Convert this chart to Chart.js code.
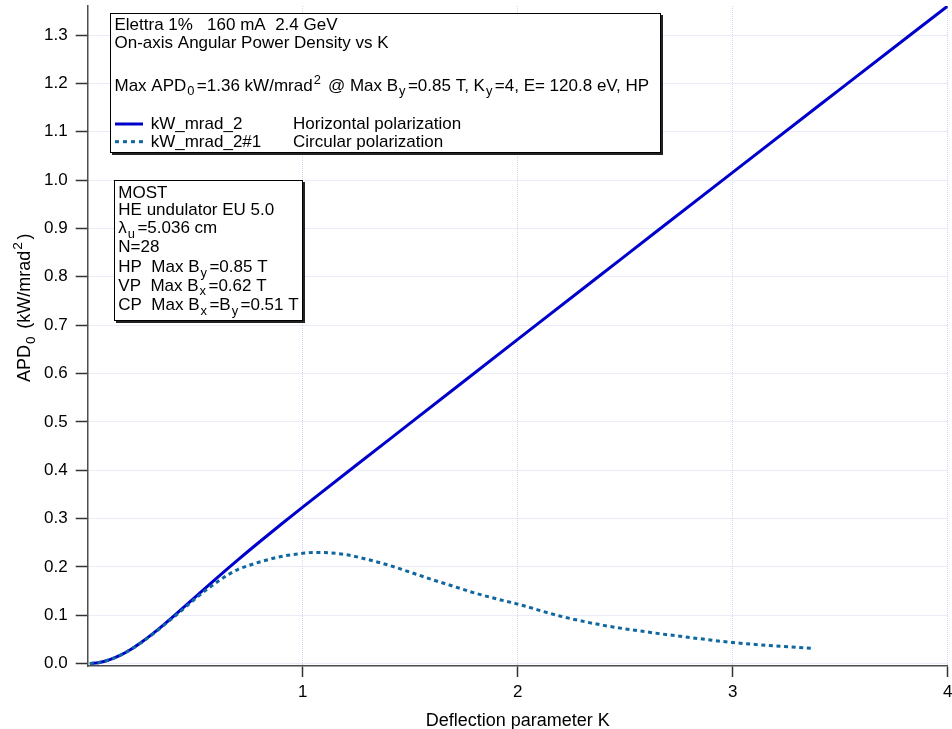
<!DOCTYPE html>
<html><head><meta charset="utf-8">
<script src="https://cdn.jsdelivr.net/npm/chart.js@4.4.0/dist/chart.umd.min.js"></script>
<style>html,body{margin:0;padding:0;background:#fff;overflow:hidden}</style>
</head><body>
<canvas id="c" width="952" height="729"></canvas>
<script>
// ---- data ----
const kHoriz   = [0.01, 0.05, 0.1, 0.15, 0.2, 0.25, 0.3, 0.35, 0.4, 0.45, 0.5, 0.6, 0.7, 0.8, 0.9, 1.0, 1.25, 1.5, 2.0, 2.5, 3.0, 3.5, 4.0];
const apdHoriz = [0.0001, 0.0019, 0.0077, 0.0169, 0.0292, 0.0440, 0.0608, 0.0790, 0.0981, 0.1177, 0.1375, 0.1768, 0.2150, 0.2520, 0.2881, 0.3235, 0.4107, 0.4972, 0.6705, 0.8433, 1.0160, 1.1881, 1.3600];
const kCirc    = [0.01, 0.05, 0.1, 0.15, 0.2, 0.25, 0.3, 0.35, 0.4, 0.45, 0.5, 0.55, 0.6, 0.65, 0.7, 0.75, 0.8, 0.9, 1.0, 1.05, 1.1, 1.2, 1.3, 1.4, 1.5, 1.6, 1.7, 1.8, 1.9, 2.0, 2.2, 2.4, 2.6, 2.8, 3.0, 3.2, 3.38];
const apdCirc  = [0.0001, 0.0019, 0.0077, 0.0168, 0.0290, 0.0437, 0.0600, 0.0780, 0.0960, 0.1150, 0.1340, 0.1520, 0.1680, 0.1830, 0.1950, 0.2030, 0.2100, 0.2215, 0.2280, 0.2300, 0.2295, 0.2255, 0.2155, 0.2035, 0.1890, 0.1740, 0.1600, 0.1460, 0.1340, 0.1230, 0.0980, 0.0790, 0.0655, 0.0540, 0.0435, 0.0365, 0.0310];
const xTicks = [1, 2, 3, 4];
const yTicks = [0.0, 0.1, 0.2, 0.3, 0.4, 0.5, 0.6, 0.7, 0.8, 0.9, 1.0, 1.1, 1.2, 1.3];
const seriesNames = ['kW_mrad_2', 'kW_mrad_2#1'];
const seriesDesc  = ['Horizontal polarization', 'Circular polarization'];
const xTitle = 'Deflection parameter K';
const yTitleRuns = [['APD',''],['0','sub'],[' (kW/mrad',''],['2','sup'],[')','']];
const box1Lines = [
  [['Elettra 1%   160 mA  2.4 GeV','']],
  [['On-axis Angular Power Density vs K','']],
  [['Max APD',''],['0','sub'],['=1.36 kW/mrad',''],['2','sup'],[' @ Max B',''],['y','sub'],['=0.85 T, K',''],['y','sub'],['=4, E= 120.8 eV, HP','']]
];
const box2Lines = [
  [['MOST','']],
  [['HE undulator EU 5.0','']],
  [['\u03BB',''],['u','sub'],['=5.036 cm','']],
  [['N=28','']],
  [['HP  Max B',''],['y','sub'],['=0.85 T','']],
  [['VP  Max B',''],['x','sub'],['=0.62 T','']],
  [['CP  Max B',''],['x','sub'],['=B',''],['y','sub'],['=0.51 T','']]
];

const FONT = '"Liberation Sans", Arial, Helvetica, sans-serif';
const BLUE = '#0000cc';
const TEAL = '#10679f';

function drawRuns(ctx, x, y, runs, size) {
  ctx.textBaseline = 'alphabetic';
  ctx.textAlign = 'left';
  for (const [t, m] of runs) {
    const fs = m ? size * 0.76 : size;
    const dy = m === 'sub' ? size * 0.27 : (m === 'sup' ? -size * 0.42 : 0);
    ctx.font = fs + 'px ' + FONT;
    ctx.fillText(t, x + (m ? size * 0.06 : 0), y + dy);
    x += ctx.measureText(t).width + (m ? size * 0.2 : 0);
  }
  return x;
}
function drawBox(ctx, x, y, w, h) {
  ctx.fillStyle = '#222';
  ctx.fillRect(x + 2, y + 2, w, h);
  ctx.fillStyle = '#fff';
  ctx.fillRect(x, y, w, h);
  ctx.strokeStyle = '#000';
  ctx.lineWidth = 1;
  ctx.strokeRect(x + 0.5, y + 0.5, w - 1, h - 1);
}

const annot = {
  id: 'annot',
  afterDraw(chart) {
    const ctx = chart.ctx;
    ctx.save();
    drawBox(ctx, 110, 13, 551, 140);
    const b1y = [30, 47.5, 90.7];
    box1Lines.forEach((l, i) => { ctx.fillStyle = '#000'; drawRuns(ctx, 114.5, b1y[i], l, 17); });
    ctx.lineWidth = 3;
    ctx.strokeStyle = BLUE; ctx.setLineDash([]);
    ctx.beginPath(); ctx.moveTo(115, 124); ctx.lineTo(143, 124); ctx.stroke();
    ctx.strokeStyle = TEAL; ctx.setLineDash([4, 4]);
    ctx.beginPath(); ctx.moveTo(115, 141.7); ctx.lineTo(143, 141.7); ctx.stroke();
    ctx.setLineDash([]);
    ctx.fillStyle = '#000';
    drawRuns(ctx, 150.7, 129.3, [[seriesNames[0], '']], 17);
    drawRuns(ctx, 293, 129.3, [[seriesDesc[0], '']], 17);
    drawRuns(ctx, 150.7, 146.7, [[seriesNames[1], '']], 17);
    drawRuns(ctx, 293, 146.7, [[seriesDesc[1], '']], 17);
    drawBox(ctx, 114, 180, 189, 141);
    const b2y = [198.3, 215.3, 233.3, 251.7, 272.3, 290.7, 310];
    box2Lines.forEach((l, i) => { ctx.fillStyle = '#000'; drawRuns(ctx, 118.3, b2y[i], l, 17); });
    ctx.fillStyle = '#000';
    ctx.font = '18px ' + FONT;
    ctx.textAlign = 'center';
    ctx.textBaseline = 'alphabetic';
    const ca = chart.chartArea;
    ctx.fillText(xTitle, (ca.left + ca.right) / 2, 726);
    ctx.translate(30, 382);
    ctx.rotate(-Math.PI / 2);
    drawRuns(ctx, 0, 0, yTitleRuns, 18);
    ctx.restore();
  }
};

new Chart(document.getElementById('c'), {
  type: 'line',
  data: {
    datasets: [
      { label: seriesNames[0], data: kHoriz.map((k, i) => ({x: k, y: apdHoriz[i]})),
        borderColor: BLUE, borderWidth: 3, pointRadius: 0, fill: false,
        cubicInterpolationMode: 'monotone', order: 2 },
      { label: seriesNames[1], data: kCirc.map((k, i) => ({x: k, y: apdCirc[i]})),
        borderColor: TEAL, borderWidth: 3, borderDash: [4, 3.6], borderCapStyle: 'butt',
        pointRadius: 0, fill: false, cubicInterpolationMode: 'monotone', order: 1 }
    ]
  },
  options: {
    responsive: false, animation: false, devicePixelRatio: 1,
    layout: { padding: { left: 0, right: 4.3, top: 6, bottom: 0 } },
    plugins: { legend: { display: false }, tooltip: { enabled: false } },
    scales: {
      x: {
        type: 'linear', min: 0, max: 4,
        afterBuildTicks: s => { s.ticks = xTicks.map(v => ({ value: v })); },
        afterFit: s => { s.height = 63; s.paddingLeft = 0; s.paddingRight = 0; },
        ticks: { callback: v => String(v), font: { family: FONT, size: 17 }, color: '#000',
                 padding: 5, maxRotation: 0, autoSkip: false },
        grid: { color: '#d4d4f0', lineWidth: 1, tickLength: 11,
                tickColor: '#333', tickWidth: 1.5, tickBorderDash: [] },
        border: { display: true, color: '#4d4d4d', width: 1.5, dash: [1, 1] }
      },
      y: {
        type: 'linear', min: -0.005, max: 1.36,
        afterBuildTicks: s => { s.ticks = yTicks.map(v => ({ value: v })); },
        afterFit: s => { s.width = 87.7; s.paddingTop = 0; s.paddingBottom = 0; },
        ticks: { callback: v => v.toFixed(1), font: { family: FONT, size: 17 }, color: '#000',
                 padding: 8, autoSkip: false },
        grid: { color: '#d4d4f0', lineWidth: 1, tickLength: 12,
                tickColor: '#333', tickWidth: 1.5, tickBorderDash: [] },
        border: { display: true, color: '#4d4d4d', width: 1.5, dash: [1, 1] }
      }
    }
  },
  plugins: [annot]
});
</script>
</body></html>
